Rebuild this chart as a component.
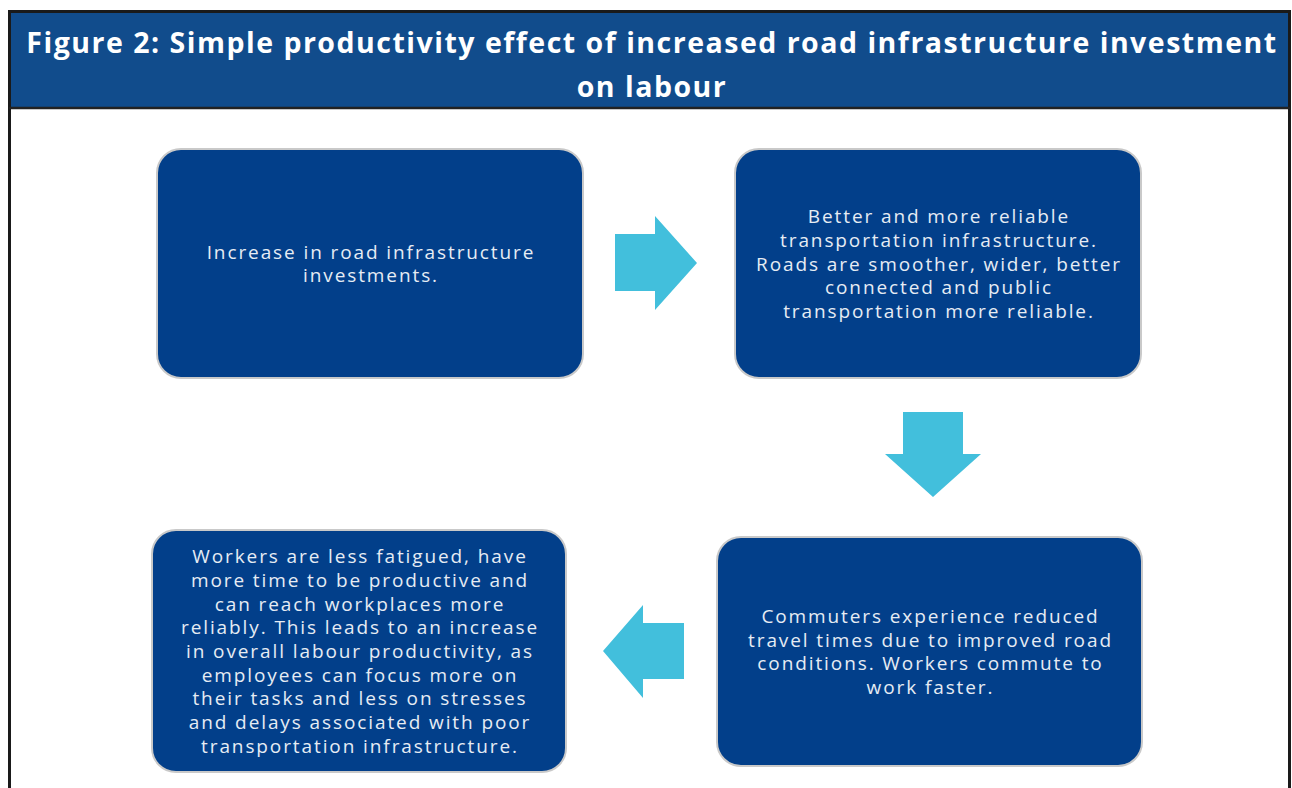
import React from "react";

const titleLines = [
  "Figure 2: Simple productivity effect of increased road infrastructure investment",
  "on labour",
];

const box1Lines = ["Increase in road infrastructure", "investments."];
const box2Lines = [
  "Better and more reliable",
  "transportation infrastructure.",
  "Roads are smoother, wider, better",
  "connected and public",
  "transportation more reliable.",
];
const box3Lines = [
  "Commuters experience reduced",
  "travel times due to improved road",
  "conditions. Workers commute to",
  "work faster.",
];
const box4Lines = [
  "Workers are less fatigued, have",
  "more time to be productive and",
  "can reach workplaces more",
  "reliably. This leads to an increase",
  "in overall labour productivity, as",
  "employees can focus more on",
  "their tasks and less on stresses",
  "and delays associated with poor",
  "transportation infrastructure.",
];

const W = 1292;
const H = 788;
const BOX_FILL = "#023F8A";
const ARROW_FILL = "#42BFDC";
const FONT = "'Open Sans', 'Noto Sans', sans-serif";
const LINE_H = 23.7;

type Box = { x: number; y: number; w: number; h: number; lines: string[] };

const boxes: Box[] = [
  { x: 157, y: 149, w: 426, h: 229, lines: box1Lines },
  { x: 735, y: 149, w: 406, h: 229, lines: box2Lines },
  { x: 717, y: 537, w: 425, h: 229, lines: box3Lines },
  { x: 152, y: 530, w: 414, h: 242, lines: box4Lines },
];

function BoxView({ b }: { b: Box }) {
  const cx = b.x + b.w / 2;
  const cy = b.y + b.h / 2;
  const n = b.lines.length;
  return (
    <g>
      <rect
        x={b.x}
        y={b.y}
        width={b.w}
        height={b.h}
        rx={24}
        ry={24}
        fill={BOX_FILL}
        stroke="#c9c9c9"
        strokeWidth={2}
      />
      {b.lines.map((l, i) => (
        <text
          key={i}
          x={cx + 1}
          y={cy + (i - (n - 1) / 2) * LINE_H}
          textAnchor="middle"
          dominantBaseline="central"
          fill="#e6ecf4"
          fontFamily={FONT}
          fontSize={19}
          fontWeight={400}
          letterSpacing={1.9}
        >
          {l}
        </text>
      ))}
    </g>
  );
}

export default function App() {
  const pts = (a: number[][]) => a.map((p) => p.join(",")).join(" ");
  const rightArrow = pts([
    [615, 234], [655, 234], [655, 216], [697, 263], [655, 310], [655, 291], [615, 291],
  ]);
  const downArrow = pts([
    [903, 412], [963, 412], [963, 454], [981, 454], [933, 497], [885, 454], [903, 454],
  ]);
  const leftArrow = pts([
    [684, 623], [643, 623], [643, 605], [603, 651], [643, 698], [643, 679], [684, 679],
  ]);
  return (
    <svg
      width={W}
      height={H}
      viewBox={`0 0 ${W} ${H}`}
      style={{ position: "absolute", left: 0, top: 0, display: "block", background: "#fff" }}
    >
      <rect x={9} y={11} width={1281} height={97} fill="#114C8C" />
      <rect x={9.5} y={11.5} width={1280} height={800} fill="none" stroke="#1a1a1a" strokeWidth={3} />
      <line x1={9} x2={1290} y1={108} y2={108} stroke="#222" strokeWidth={2.5} />
      {titleLines.map((t, i) => (
        <text
          key={i}
          x={652}
          y={42 + i * 44}
          textAnchor="middle"
          dominantBaseline="central"
          fill="#ffffff"
          fontFamily={FONT}
          fontSize={28.5}
          fontWeight={700}
          letterSpacing={1.5}
        >
          {t}
        </text>
      ))}
      {boxes.map((b, i) => (
        <BoxView key={i} b={b} />
      ))}
      <polygon points={rightArrow} fill={ARROW_FILL} />
      <polygon points={downArrow} fill={ARROW_FILL} />
      <polygon points={leftArrow} fill={ARROW_FILL} />
    </svg>
  );
}
